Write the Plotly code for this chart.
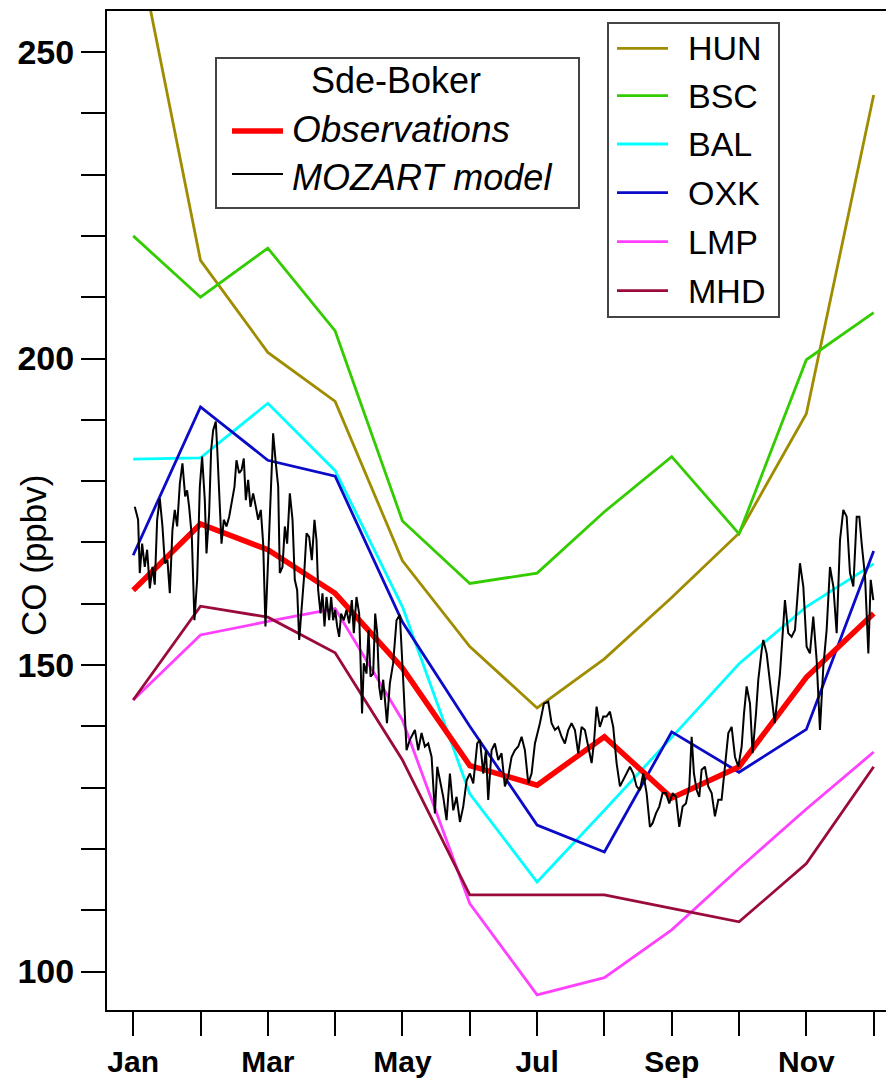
import plotly.graph_objects as go

# ---------------- data ----------------
months = list(range(12))
month_labels = ["Jan", "", "Mar", "", "May", "", "Jul", "", "Sep", "", "Nov", ""]

hun = [271, 216, 201, 193, 167, 153, 143, 151, 161, 171.5, 191, 243]
bsc = [220, 210, 218, 204.5, 173.5, 163.3, 165, 175, 184, 171.4, 199.8, 207.5]
bal = [183.6, 183.8, 192.7, 181.7, 159.5, 129, 114.6, 126.3, 138.2, 150.2, 159.5, 166.5]
oxk = [167.9, 192.1, 183.4, 180.8, 157, 140, 123.9, 119.5, 139.1, 132.5, 139.5, 168.6]
lmp = [144.3, 154.9, 157.1, 159.2, 141, 111.1, 96.2, 99, 106.8, 116.8, 126.5, 135.8]
mhd = [144.3, 159.6, 157.8, 152, 134.5, 112.5, 112.5, 112.5, 110.3, 108.1, 117.6, 133.4]
observations = [162.2, 173, 168.8, 161.7, 149.5, 133.6, 130.4, 138.3, 128.3, 133.4, 148, 158.4]

model_month = [
    0.024, 0.073, 0.098, 0.133, 0.172, 0.207, 0.247, 0.286, 0.321, 0.356, 0.395, 0.435,
    0.470, 0.509, 0.544, 0.583, 0.618, 0.653, 0.693, 0.732, 0.772, 0.801, 0.831, 0.871,
    0.910, 0.950, 0.990, 1.024, 1.064, 1.089, 1.128, 1.158, 1.188, 1.227, 1.247, 1.277,
    1.312, 1.346, 1.386, 1.426, 1.465, 1.505, 1.534, 1.574, 1.609, 1.643, 1.673, 1.708,
    1.743, 1.782, 1.822, 1.857, 1.896, 1.931, 1.965, 1.995, 2.030, 2.079, 2.119, 2.154,
    2.178, 2.218, 2.253, 2.287, 2.327, 2.367, 2.401, 2.436, 2.466, 2.500, 2.535, 2.575,
    2.614, 2.654, 2.693, 2.723, 2.748, 2.783, 2.812, 2.842, 2.872, 2.911, 2.941, 2.970,
    3.000, 3.030, 3.060, 3.089, 3.129, 3.169, 3.208, 3.248, 3.277, 3.317, 3.357, 3.400,
    3.426, 3.466, 3.496, 3.526, 3.565, 3.595, 3.625, 3.654, 3.684, 3.714, 3.770, 3.813,
    3.862, 3.912, 3.961, 4.011, 4.061, 4.110, 4.185, 4.234, 4.284, 4.333, 4.383, 4.433,
    4.482, 4.517, 4.556, 4.606, 4.655, 4.705, 4.755, 4.804, 4.854, 4.903, 4.953, 5.002,
    5.052, 5.111, 5.151, 5.200, 5.240, 5.274, 5.324, 5.373, 5.423, 5.472, 5.522, 5.571,
    5.621, 5.670, 5.720, 5.770, 5.819, 5.869, 5.918, 5.968, 6.042, 6.101, 6.166, 6.215,
    6.265, 6.314, 6.364, 6.413, 6.463, 6.512, 6.562, 6.611, 6.661, 6.710, 6.760, 6.810,
    6.844, 6.884, 6.933, 6.983, 7.032, 7.082, 7.131, 7.181, 7.231, 7.280, 7.330, 7.379,
    7.429, 7.478, 7.528, 7.577, 7.627, 7.676, 7.716, 7.766, 7.815, 7.865, 7.914, 7.964,
    8.013, 8.063, 8.112, 8.162, 8.211, 8.261, 8.296, 8.330, 8.370, 8.409, 8.444, 8.494,
    8.543, 8.593, 8.642, 8.692, 8.741, 8.791, 8.841, 8.890, 8.940, 8.989, 9.039, 9.074,
    9.113, 9.163, 9.202, 9.252, 9.286, 9.336, 9.360, 9.410, 9.459, 9.530, 9.608, 9.682,
    9.731, 9.781, 9.831, 9.905, 9.955, 10.004, 10.053, 10.103, 10.153, 10.202, 10.252, 10.301,
    10.351, 10.401, 10.450, 10.500, 10.549, 10.599, 10.648, 10.698, 10.748, 10.787, 10.822, 10.872,
    10.921, 10.956, 10.995,
]
model_co = [
    175.8, 173.7, 165.0, 169.8, 166.0, 168.8, 162.5, 166.0, 163.1, 173.7, 177.2, 172.6,
    166.6, 167.1, 161.7, 172.0, 175.3, 172.6, 179.6, 182.9, 177.5, 178.5, 175.8, 170.9,
    157.3, 163.9, 179.1, 184.0, 176.9, 168.2, 174.7, 185.1, 188.3, 189.7, 185.6, 178.5,
    169.8, 173.7, 172.6, 174.2, 176.4, 179.1, 183.4, 181.3, 181.8, 183.7, 176.9, 180.2,
    175.8, 178.0, 175.8, 173.7, 175.3, 169.8, 156.3, 163.9, 174.7, 187.8, 182.9, 179.1,
    165.0, 166.0, 172.6, 169.8, 178.0, 173.7, 163.9, 162.2, 154.1, 158.4, 163.9, 171.5,
    170.9, 167.1, 173.7, 170.4, 162.2, 158.4, 161.7, 156.3, 161.1, 157.3, 161.1, 157.3,
    159.0, 156.3, 154.6, 158.4, 157.3, 159.0, 156.8, 160.6, 155.2, 161.1, 158.4, 142.1,
    150.3, 148.6, 155.7, 148.1, 148.6, 158.4, 155.2, 146.5, 144.3, 147.6, 140.5, 147.0,
    150.3, 157.3, 158.2, 147.6, 136.1, 137.8, 139.4, 136.1, 138.9, 136.7, 137.2, 135.0,
    125.8, 133.4, 131.2, 128.5, 124.7, 132.3, 126.3, 128.5, 124.4, 126.9, 131.2, 132.3,
    130.7, 137.2, 137.8, 132.3, 136.1, 128.0, 136.1, 137.2, 134.5, 135.6, 130.2, 131.8,
    135.0, 136.1, 136.7, 138.3, 136.1, 130.7, 132.3, 137.2, 140.5, 143.7, 144.0, 140.5,
    139.4, 139.9, 138.3, 137.2, 139.4, 140.5, 139.4, 135.6, 139.9, 139.4, 136.7, 134.0,
    137.2, 143.2, 139.9, 141.6, 141.6, 142.4, 139.9, 134.0, 130.2, 131.2, 132.3, 133.4,
    132.3, 130.2, 129.6, 132.3, 129.1, 123.6, 124.2, 125.8, 126.9, 129.1, 129.1, 127.4,
    129.1, 128.5, 123.6, 126.9, 127.4, 130.2, 138.3, 132.3, 129.6, 128.5, 132.9, 133.4,
    130.2, 129.1, 125.3, 128.0, 128.0, 133.4, 138.9, 139.9, 135.0, 133.4, 136.7, 142.1,
    146.5, 143.7, 135.6, 142.1, 147.6, 152.4, 154.1, 151.9, 147.0, 140.5, 148.6, 160.6,
    155.2, 154.6, 155.7, 166.6, 162.8, 153.0, 151.9, 157.9, 150.8, 139.4, 149.7, 155.7,
    166.0, 162.8, 155.2, 170.4, 175.3, 174.2, 165.0, 162.8, 174.2, 174.2, 169.8, 164.4,
    151.9, 163.9, 160.6,
]

y_tick_values = list(range(100, 251, 10))
y_tick_labels = [str(v) if v % 50 == 0 else "" for v in y_tick_values]

station_names = ["HUN", "BSC", "BAL", "OXK", "LMP", "MHD"]
station_values = [hun, bsc, bal, oxk, lmp, mhd]
station_colors = ["#a08c00", "#33cc00", "#00ffff", "#0a0ac8", "#ff40ff", "#9a0a3a"]

# ---------------- layout geometry ----------------
# the page body has an 8 px margin, so the figure is 8 px smaller and
# page positions (measured on the reference) are shifted by OFF
OFF = 8
W, H = 894 - OFF, 1083 - OFF
ML, MR, MT, MB = 107 - OFF, 0, 11 - OFF, 1083 - 1010
PW, PH = W - ML - MR, H - MT - MB


def px(x):  # page x -> paper
    return (x - OFF - ML) / PW


def py(y):  # page y -> paper
    return (H - MB - (y - OFF)) / PH


FONT = "Liberation Sans, Arial, sans-serif"

fig = go.Figure()

for name, vals, col in zip(station_names, station_values, station_colors):
    fig.add_trace(go.Scatter(x=months, y=vals, mode="lines", name=name,
                             line=dict(color=col, width=2.8), showlegend=False))

fig.add_trace(go.Scatter(x=months, y=observations, mode="lines", name="Observations",
                         line=dict(color="#ff0000", width=5.5), showlegend=False))
fig.add_trace(go.Scatter(x=model_month, y=model_co, mode="lines", name="MOZART model",
                         line=dict(color="#000000", width=2), showlegend=False))

shapes = []
annotations = []

# legend 1 (Sde-Boker)
shapes.append(dict(type="rect", xref="paper", yref="paper",
                   x0=px(216), x1=px(579), y0=py(208), y1=py(58),
                   line=dict(color="#444444", width=2), fillcolor="white", layer="above"))
annotations.append(dict(text="Sde-Boker", xref="paper", yref="paper", x=px(396), y=py(81),
                        xanchor="center", yanchor="middle", showarrow=False,
                        font=dict(family=FONT, size=36, color="black")))
annotations.append(dict(text="<i>Observations</i>", xref="paper", yref="paper", x=px(290), y=py(130),
                        xanchor="left", yanchor="middle", showarrow=False,
                        font=dict(family=FONT, size=37, color="black")))
annotations.append(dict(text="<i>MOZART model</i>", xref="paper", yref="paper", x=px(290), y=py(177),
                        xanchor="left", yanchor="middle", showarrow=False,
                        font=dict(family=FONT, size=36, color="black")))
shapes.append(dict(type="line", xref="paper", yref="paper", x0=px(232), x1=px(283),
                   y0=py(131), y1=py(131), line=dict(color="#ff0000", width=5.5), layer="above"))
shapes.append(dict(type="line", xref="paper", yref="paper", x0=px(232), x1=px(283),
                   y0=py(174), y1=py(174), line=dict(color="#000000", width=2), layer="above"))

# legend 2 (stations)
shapes.append(dict(type="rect", xref="paper", yref="paper",
                   x0=px(608), x1=px(779), y0=py(317), y1=py(23),
                   line=dict(color="#444444", width=2), fillcolor="white", layer="above"))
row_y = [48.3, 95.7, 144, 192.7, 241.7, 290.7]
for name, col, ry in zip(station_names, station_colors, row_y):
    shapes.append(dict(type="line", xref="paper", yref="paper", x0=px(617), x1=px(668),
                       y0=py(ry), y1=py(ry), line=dict(color=col, width=2.8), layer="above"))
    annotations.append(dict(text=name, xref="paper", yref="paper", x=px(686), y=py(ry),
                            xanchor="left", yanchor="middle", showarrow=False,
                            font=dict(family=FONT, size=34, color="black")))

# y axis title
annotations.append(dict(text="CO (ppbv)", xref="paper", yref="paper", x=px(33), y=py(556),
                        xanchor="center", yanchor="middle", textangle=-90, showarrow=False,
                        font=dict(family=FONT, size=35, color="black")))

fig.update_layout(
    width=W, height=H,
    margin=dict(l=ML, r=MR, t=MT, b=MB, pad=0, autoexpand=False),
    paper_bgcolor="white", plot_bgcolor="white",
    shapes=shapes, annotations=annotations,
    showlegend=False,
)

fig.update_xaxes(
    range=[-0.389, 11.302],
    tickmode="array", tickvals=months, ticktext=month_labels,
    ticks="outside", ticklen=24, tickwidth=2, tickcolor="black",
    showline=True, linewidth=2, linecolor="black", mirror=True,
    showgrid=False, zeroline=False, automargin=False,
    tickfont=dict(family=FONT, size=30, color="black", weight="bold"),
)
fig.update_yaxes(
    range=[93.72, 256.69],
    tickmode="array", tickvals=y_tick_values, ticktext=y_tick_labels,
    ticks="outside", ticklen=24, tickwidth=2, tickcolor="black",
    showline=True, linewidth=2, linecolor="black", mirror=False,
    showgrid=False, zeroline=False, automargin=False,
    tickfont=dict(family=FONT, size=34, color="black", weight="bold"),
)

fig.write_html("out.html")
